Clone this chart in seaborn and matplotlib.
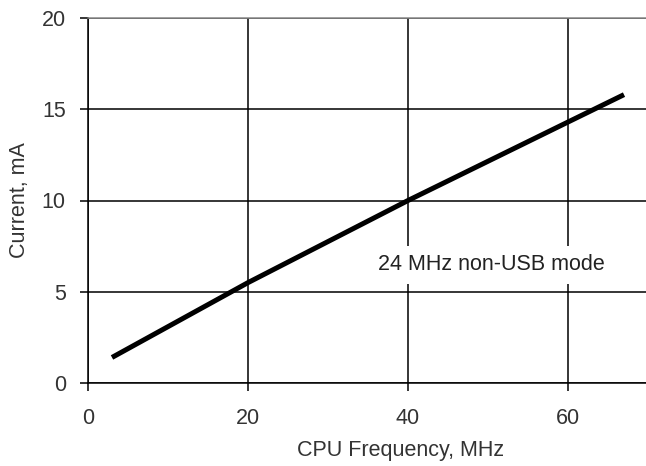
import matplotlib
matplotlib.use("Agg")
import matplotlib.pyplot as plt
import seaborn as sns
import pandas as pd

freq_mhz = [3, 20, 40, 60, 67]
current_ma = [1.4, 5.5, 10.0, 14.3, 15.8]
x_ticks = [0, 20, 40, 60]
y_ticks = [0, 5, 10, 15, 20]
note = "24 MHz non-USB mode"

sns.set_style("white")
plt.rcParams['font.family'] = ['Liberation Sans', 'DejaVu Sans']

df = pd.DataFrame({"freq": freq_mhz, "current": current_ma})

fs = 15.5
fig = plt.figure(figsize=(6.46, 4.66), dpi=100)
ax = fig.add_axes([88/646, 83/466, 560/646, 365/466])
ax.set_xlim(0, 70)
ax.set_ylim(0, 20)
ax.set_xticks(x_ticks)
ax.set_yticks(y_ticks)
ax.grid(True, color="black", linewidth=1.1)
ax.set_axisbelow(True)

sns.lineplot(data=df, x="freq", y="current", ax=ax, color="black",
             linewidth=3.6, solid_capstyle="butt")

for s in ["left", "bottom"]:
    ax.spines[s].set_color("black")
    ax.spines[s].set_linewidth(1.1)
ax.spines["top"].set_color("#888888")
ax.spines["top"].set_linewidth(1.1)
ax.spines["right"].set_visible(False)

ax.tick_params(axis="x", direction="out", length=6, width=1.1, color="black",
               labelsize=fs, labelcolor="#333333", pad=12, bottom=True)
ax.tick_params(axis="y", direction="out", length=6, width=1.1, color="black",
               labelsize=fs, labelcolor="#333333", pad=10, left=True)

ax.set_xlabel("CPU Frequency, MHz", fontsize=fs, color="#333333")
ax.xaxis.set_label_coords((401 - 88) / 560, (26 - 83) / 365)
ax.set_ylabel("Current, mA", fontsize=fs, color="#333333")
ax.yaxis.set_label_coords((30 - 88) / 560, 0.5)

ax.text(50.4, 6.47, note, fontsize=fs, color="#222222", ha="center", va="center",
        bbox=dict(facecolor="white", edgecolor="none", pad=6), zorder=5)

fig.savefig("out.png", dpi=100)
